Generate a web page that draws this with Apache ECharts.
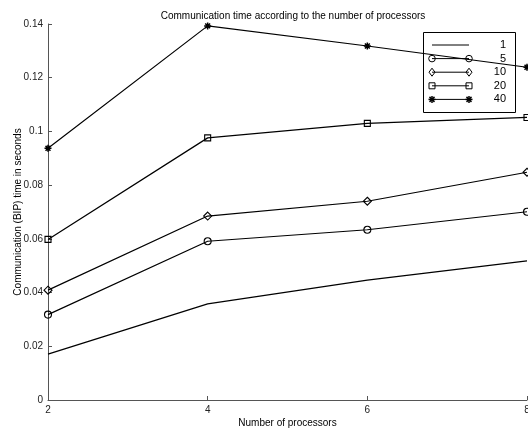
<!DOCTYPE html>
<html>
<head>
<meta charset="utf-8">
<script src="https://cdn.jsdelivr.net/npm/echarts@6/dist/echarts.min.js"></script>
<style>html,body{margin:0;padding:0;background:#fff;}#c{width:528px;height:432px;}</style>
</head>
<body>
<div id="c"></div>
<script>
const processors = [2, 4, 6, 8];
const seriesNames = ['1', '5', '10', '20', '40'];
const time1 = [0.0171, 0.0358, 0.0446, 0.0518];
const time5 = [0.0318, 0.0591, 0.0634, 0.0701];
const time10 = [0.0409, 0.0685, 0.0740, 0.0848];
const time20 = [0.0598, 0.0976, 0.1030, 0.1052];
const time40 = [0.0937, 0.1393, 0.1318, 0.1239];
const xTickLabels = ['2', '4', '6', '8'];
const yTickLabels = ['0', '0.02', '0.04', '0.06', '0.08', '0.1', '0.12', '0.14'];

const allValues = [time1, time5, time10, time20, time40];
const STAR = 'path://M0,5L10,5M5,0L5,10M1.5,1.5L8.5,8.5M1.5,8.5L8.5,1.5';
const markers = [
  {symbol: 'none', size: 0},
  {symbol: 'circle', size: 7},
  {symbol: 'diamond', size: 8},
  {symbol: 'rect', size: 6},
  {symbol: STAR, size: 7}
];
const FONT = 'Liberation Sans, Arial, Helvetica, sans-serif';

const series = seriesNames.map((name, i) => ({
  name: name,
  type: 'line',
  data: processors.map((p, j) => [p, allValues[i][j]]),
  symbol: markers[i].symbol,
  showSymbol: markers[i].symbol !== 'none',
  symbolSize: markers[i].size,
  lineStyle: {color: '#000', width: 1.2},
  itemStyle: {color: 'transparent', borderColor: '#000', borderWidth: i === 4 ? 1.5 : 1.1},
  emphasis: {disabled: true},
  animation: false,
  z: 2
}));

// legend drawn as graphic (MATLAB style: marker at both ends of the line)
const lg = {x: 423, y: 32, w: 92, h: 80, row0: 13, rowGap: 13.6, lx0: 432, lx1: 469, tx: 506};
const legendChildren = [{
  type: 'rect', shape: {x: lg.x + 0.5, y: lg.y + 0.5, width: lg.w, height: lg.h},
  style: {fill: '#fff', stroke: '#000', lineWidth: 1}
}];
function markerGraphic(kind, cx, cy) {
  if (kind === 'circle') return {type: 'circle', shape: {cx: cx, cy: cy, r: 3.3}, style: {fill: 'none', stroke: '#000', lineWidth: 1}};
  if (kind === 'diamond') return {type: 'polygon', shape: {points: [[cx, cy - 4], [cx + 3, cy], [cx, cy + 4], [cx - 3, cy]]}, style: {fill: 'none', stroke: '#000', lineWidth: 1}};
  if (kind === 'rect') return {type: 'rect', shape: {x: cx - 3, y: cy - 3, width: 6, height: 6}, style: {fill: 'none', stroke: '#000', lineWidth: 1}};
  if (kind === STAR) return {type: 'group', children: [
    {type: 'line', shape: {x1: cx - 3.5, y1: cy, x2: cx + 3.5, y2: cy}, style: {stroke: '#000', lineWidth: 1.5}},
    {type: 'line', shape: {x1: cx, y1: cy - 3.5, x2: cx, y2: cy + 3.5}, style: {stroke: '#000', lineWidth: 1.5}},
    {type: 'line', shape: {x1: cx - 2.5, y1: cy - 2.5, x2: cx + 2.5, y2: cy + 2.5}, style: {stroke: '#000', lineWidth: 1.5}},
    {type: 'line', shape: {x1: cx - 2.5, y1: cy + 2.5, x2: cx + 2.5, y2: cy - 2.5}, style: {stroke: '#000', lineWidth: 1.5}}
  ]};
  return null;
}
seriesNames.forEach((name, i) => {
  const cy = lg.y + lg.row0 + i * lg.rowGap;
  legendChildren.push({type: 'line', shape: {x1: lg.lx0, y1: cy, x2: lg.lx1, y2: cy}, style: {stroke: '#000', lineWidth: 1}});
  const m0 = markerGraphic(markers[i].symbol, lg.lx0, cy);
  const m1 = markerGraphic(markers[i].symbol, lg.lx1, cy);
  if (m0) legendChildren.push(m0);
  if (m1) legendChildren.push(m1);
  legendChildren.push({type: 'text', style: {text: name, x: lg.tx, y: cy, align: 'right', verticalAlign: 'middle', fill: '#000', font: '11px ' + FONT}});
});

const chart = echarts.init(document.getElementById('c'), null, {renderer: 'canvas'});
chart.setOption({
  backgroundColor: '#fff',
  animation: false,
  title: {
    text: 'Communication time according to the number of processors',
    left: 288, top: 6, textAlign: 'center',
    textStyle: {fontFamily: FONT, fontSize: 10, fontWeight: 'normal', color: '#000'}
  },
  grid: {left: 48, right: 1, top: 24, bottom: 32, containLabel: false, outerBoundsMode: 'none'},
  xAxis: {
    type: 'value', min: 2, max: 8, interval: 2,
    name: 'Number of processors', nameLocation: 'middle', nameGap: 18, nameMoveOverlap: false,
    nameTextStyle: {fontFamily: FONT, fontSize: 10, color: '#000'},
    axisLine: {lineStyle: {color: '#555', width: 1}},
    axisTick: {inside: true, length: 4, lineStyle: {color: '#555'}},
    axisLabel: {fontFamily: FONT, fontSize: 10, color: '#222', margin: 5, hideOverlap: false,
      formatter: v => xTickLabels[processors.indexOf(v)] || ''},
    splitLine: {show: false}
  },
  yAxis: {
    type: 'value', min: 0, max: 0.14, interval: 0.02,
    name: 'Communication (BIP) time in seconds', nameLocation: 'middle', nameGap: 25, nameMoveOverlap: false,
    nameTextStyle: {fontFamily: FONT, fontSize: 10, color: '#000'},
    axisLine: {show: true, lineStyle: {color: '#555', width: 1}},
    axisTick: {show: true, inside: true, length: 4, lineStyle: {color: '#555'}},
    axisLabel: {fontFamily: FONT, fontSize: 10, color: '#222', margin: 5,
      formatter: v => yTickLabels[Math.round(v / 0.02)]},
    splitLine: {show: false}
  },
  series: series,
  graphic: [{type: 'group', z: 100, children: legendChildren}]
});
</script>
</body>
</html>
